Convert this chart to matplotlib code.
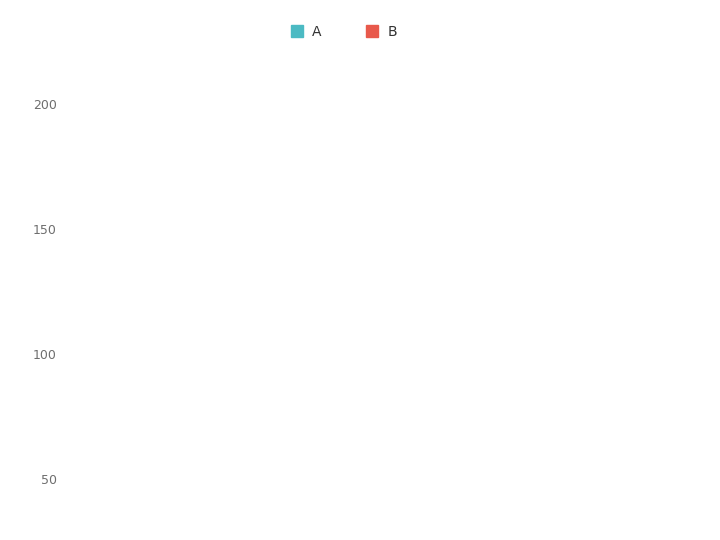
import matplotlib
matplotlib.use('Agg')
import matplotlib.pyplot as plt
from matplotlib.lines import Line2D

# the reference shows no visible marks, only the axis and legend
categories = []
series_a = []
series_b = []
series_names = ['A', 'B']
colors = ['#4bbac3', '#e8594b']
y_ticks = [50, 100, 150, 200]

fig = plt.figure(figsize=(7.2, 5.4), dpi=100)
# axes placed so tick 200 lands at y=104px and tick 50 at y=479px
ax = fig.add_axes([68 / 720, 0, 1 - 88 / 720, 480 / 540])
ax.set_ylim(25.6, 217.6)

ax.plot(categories, series_a, color=colors[0])
ax.plot(categories, series_b, color=colors[1])

ax.set_yticks(y_ticks)
ax.set_yticklabels([str(t) for t in y_ticks])
ax.tick_params(axis='y', length=0, pad=8, labelsize=9, labelcolor='#6e6e6e')
ax.tick_params(axis='x', bottom=False, labelbottom=False)
for s in ax.spines.values():
    s.set_visible(False)

handles = [Line2D([], [], marker='s', linestyle='none', markersize=9,
                  markerfacecolor=c, markeredgecolor=c) for c in colors]
fig.legend(handles, series_names, loc='center', bbox_to_anchor=(340 / 720, 1 - 32 / 540),
           ncol=2, frameon=False, fontsize=10, handletextpad=0.1,
           columnspacing=2.6, labelcolor='#333333')

fig.savefig('out.png', dpi=100, facecolor='white')
